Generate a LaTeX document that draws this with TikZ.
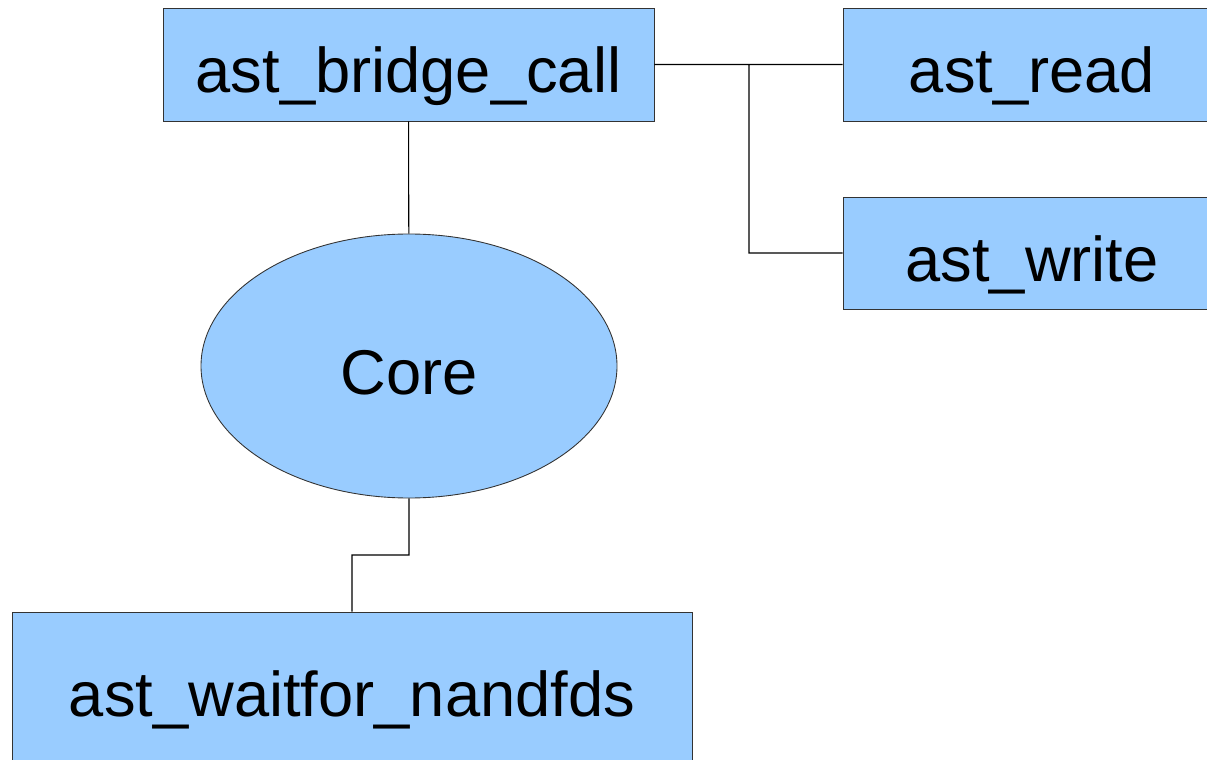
\documentclass[tikz,border=0pt]{standalone}
\usepackage{fontspec}
\setmainfont{Liberation Sans}
\usepackage{tikz}
\usetikzlibrary{positioning,calc,shapes.geometric}
\definecolor{boxblue}{HTML}{99CCFF}

\begin{document}
\begin{tikzpicture}[x=0.02cm,y=-0.02cm]
            \tikzstyle{func}=[rectangle, draw=black!80, fill=boxblue,
            line width=0.5pt, inner sep=0pt, text height=1.14cm, text depth=0pt,
            font=\fontsize{36}{43}\selectfont]
            \tikzstyle{link}=[draw=black, line width=0.6pt]
            \clip (0,0) rectangle (1207,760);
            \node[func, minimum width=491*0.02cm, minimum height=113*0.02cm] (bridge) at (408.5,64.5) {ast\_bridge\_call};
            \node[func, minimum width=378*0.02cm, minimum height=113*0.02cm] (read) at (1032,64.5) {ast\_read};
            \node[func, minimum width=378*0.02cm, minimum height=112*0.02cm] (write) at (1032,253) {ast\_write};
            \node[func, ellipse, minimum width=416*0.02cm, minimum height=264*0.02cm] (core) at (409,366) {Core};
            \node[func, minimum width=680*0.02cm, minimum height=152*0.02cm] (wait) at (352,688) {ast\_waitfor\_nandfds};
            \coordinate (split) at (749,64.5);
            \coordinate (mid) at (380,555);
            \path[link]
            (bridge) -- (core)
            (bridge.east) -- (read.west)
            (split) |- (write.west)
            (core.south) |- (mid) -| (wait.north);
        \end{tikzpicture}
\end{document}
